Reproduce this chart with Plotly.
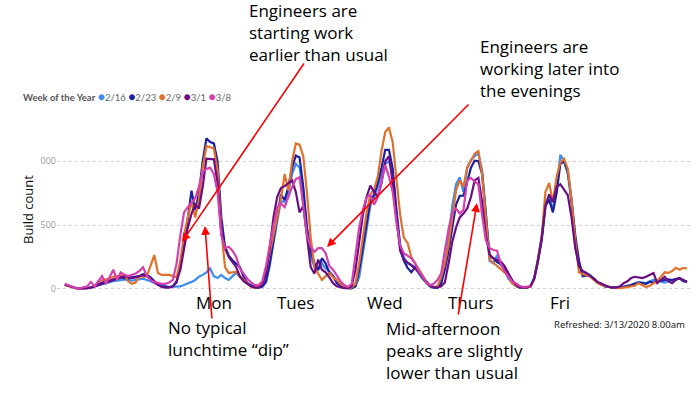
import plotly.graph_objects as go

# ---------------- data (hourly build counts, Sunday 00:00 -> Saturday 23:00) ----------------
week_names = ["2/16", "2/23", "2/9", "3/1", "3/8"]
week_colors = ["#3B8EF0", "#1C1FA0", "#E0712C", "#6A0D83", "#D63FAE"]

wk_0216 = (
    [35, 25, 15, 8, 5, 5, 8, 12, 20, 30, 40, 50, 55, 60, 65, 70, 75, 70, 65, 70, 75, 80, 70, 60]
    + [45, 35, 25, 20, 15, 15, 15, 20, 30, 40, 55, 70, 95, 110, 130, 160, 100, 85, 110, 85, 70, 100, 125, 95]
    + [70, 45, 30, 15, 10, 15, 50, 180, 360, 540, 690, 680, 760, 900, 980, 950, 760, 450, 260, 170, 150, 200, 160, 140]
    + [100, 60, 30, 15, 5, 5, 20, 90, 280, 470, 650, 720, 800, 900, 980, 1000, 900, 600, 350, 250, 200, 190, 170, 120]
    + [80, 50, 25, 10, 10, 50, 180, 400, 650, 820, 875, 760, 950, 1010, 1040, 1060, 930, 600, 220, 200, 265, 190, 150, 80]
    + [50, 25, 15, 10, 10, 25, 90, 240, 400, 680, 720, 620, 780, 1050, 1000, 900, 680, 400, 200, 110, 120, 110, 80, 50]
    + [35, 20, 15, 10, 10, 10, 15, 20, 30, 45, 55, 50, 45, 60, 70, 65, 55, 50, 60, 70, 75, 80, 65, 55]
)
wk_0223 = (
    [35, 25, 12, 5, 3, 3, 5, 10, 25, 40, 50, 60, 70, 75, 80, 90, 85, 80, 90, 95, 100, 115, 110, 90]
    + [60, 35, 20, 15, 15, 20, 50, 200, 330, 550, 770, 615, 750, 1000, 1180, 1150, 1140, 1000, 560, 330, 260, 225, 200, 170]
    + [95, 45, 25, 15, 10, 20, 60, 200, 380, 560, 740, 695, 800, 950, 1045, 1030, 800, 480, 300, 200, 150, 240, 200, 125]
    + [100, 45, 20, 10, 5, 5, 20, 150, 330, 520, 690, 740, 830, 950, 1090, 1090, 945, 620, 330, 220, 165, 130, 170, 150]
    + [90, 50, 20, 10, 10, 40, 150, 300, 480, 660, 730, 730, 840, 950, 1005, 1000, 900, 600, 260, 240, 210, 195, 170, 120]
    + [70, 25, 10, 10, 10, 20, 80, 220, 380, 650, 700, 600, 750, 980, 1000, 920, 700, 420, 220, 100, 105, 100, 80, 50]
    + [40, 20, 15, 10, 10, 10, 15, 25, 30, 40, 50, 45, 40, 55, 50, 60, 65, 70, 75, 70, 80, 85, 60, 55]
)
wk_0209 = (
    [30, 20, 10, 5, 3, 3, 5, 10, 20, 60, 65, 70, 80, 95, 100, 105, 110, 60, 40, 50, 100, 95, 100, 180]
    + [265, 125, 110, 110, 110, 100, 90, 220, 420, 560, 680, 560, 700, 950, 1120, 1110, 1100, 930, 460, 170, 125, 130, 135, 100]
    + [70, 45, 15, 10, 15, 40, 130, 280, 420, 560, 700, 900, 770, 1000, 1140, 1130, 1040, 750, 400, 170, 120, 70, 100, 125]
    + [90, 70, 40, 20, 10, 10, 40, 200, 400, 600, 740, 780, 880, 1080, 1230, 1265, 1150, 850, 580, 400, 360, 250, 200, 150]
    + [100, 60, 25, 15, 20, 90, 200, 350, 560, 770, 850, 800, 950, 1010, 1060, 1080, 900, 560, 230, 205, 180, 160, 130, 100]
    + [45, 25, 15, 10, 10, 20, 80, 230, 420, 760, 830, 680, 880, 990, 1020, 940, 700, 380, 130, 115, 110, 95, 70, 45]
    + [30, 20, 15, 10, 5, 5, 10, 15, 15, 25, 45, 30, 15, 25, 45, 60, 95, 130, 125, 140, 165, 150, 165, 160]
)
wk_0301 = (
    [35, 25, 12, 5, 3, 3, 5, 10, 20, 35, 45, 55, 65, 70, 80, 90, 100, 95, 85, 90, 100, 110, 100, 80]
    + [50, 30, 15, 10, 10, 20, 60, 150, 330, 480, 590, 660, 630, 800, 1020, 1020, 1015, 830, 440, 320, 250, 210, 170, 95]
    + [60, 40, 20, 10, 10, 30, 120, 320, 560, 720, 790, 805, 830, 850, 760, 600, 650, 400, 170, 120, 230, 150, 130, 90]
    + [45, 20, 10, 5, 5, 20, 150, 380, 580, 720, 810, 760, 720, 830, 1000, 1040, 835, 560, 300, 230, 210, 185, 160, 130]
    + [90, 55, 25, 15, 10, 20, 50, 200, 370, 480, 560, 590, 630, 720, 850, 870, 680, 420, 270, 240, 230, 215, 180, 120]
    + [70, 35, 15, 10, 10, 20, 80, 220, 400, 650, 740, 680, 800, 820, 780, 735, 560, 320, 180, 140, 125, 100, 80, 55]
    + [40, 25, 15, 10, 10, 20, 45, 60, 85, 95, 90, 85, 95, 110, 125, 45, 70, 95, 60, 45, 70, 85, 70, 55]
)
wk_0308 = (
    [40, 30, 15, 5, 5, 10, 20, 55, 20, 60, 100, 45, 90, 150, 70, 130, 110, 100, 110, 120, 140, 170, 100, 70]
    + [55, 45, 40, 40, 50, 70, 200, 420, 600, 640, 680, 710, 800, 920, 940, 950, 900, 760, 420, 320, 330, 300, 250, 160]
    + [120, 80, 50, 30, 30, 60, 180, 350, 500, 640, 670, 640, 720, 800, 860, 875, 650, 420, 330, 290, 320, 320, 280, 180]
    + [150, 100, 60, 30, 15, 40, 250, 480, 620, 720, 735, 660, 720, 850, 970, 880, 760, 520, 340, 280, 260, 240, 200, 140]
    + [100, 50, 30, 40, 70, 120, 300, 470, 600, 630, 590, 620, 850, 870, 840, 820, 580, 380, 320, 305, 300, 200, 140, 100]
    + [60, 45, 25, 15, 15, 20]
)
week_values = [wk_0216, wk_0223, wk_0209, wk_0301, wk_0308]

day_labels = ["Mon", "Tues", "Wed", "Thurs", "Fri"]
day_label_hour = [40, 62, 86, 109, 133]

y_tickvals = [0, 500, 1000]
y_ticktext = ["0", "500", "000"]

# ---------------- layout helpers (pixel -> paper) ----------------
W, H = 694, 406
ML, MR, MT, MB = 57, 4, 123, 112
PW, PH = W - ML - MR, H - MT - MB


def px(xp):
    return (xp - ML) / PW


def py(yp):
    return (H - MB - yp) / PH


fig = go.Figure()
for name, color, vals in zip(week_names, week_colors, week_values):
    fig.add_trace(go.Scatter(
        x=list(range(len(vals))), y=vals, mode="lines", name=name,
        line=dict(color=color, width=2.2), showlegend=False,
    ))

ann = []
# legend (compact, Power BI style)
legend_html = "<b>Week of the Year</b> " + " ".join(
    f"<span style='color:{c};font-size:12px'>●</span><span style='color:#666'>{n}</span>"
    for n, c in zip(week_names, week_colors)
)
ann.append(dict(text=legend_html, xref="paper", yref="paper", x=px(21), y=py(96),
                xanchor="left", yanchor="middle", showarrow=False,
                font=dict(family="Lato", size=9.5, color="#555555")))

# y axis title
ann.append(dict(text="Build count", xref="paper", yref="paper", x=px(28), y=py(210),
                textangle=-90, showarrow=False, xanchor="center", yanchor="middle",
                font=dict(family="Open Sans", size=13, color="#111111")))

# day labels
for lab, hx in zip(day_labels, day_label_hour):
    ann.append(dict(text=lab, xref="x", yref="paper", x=hx, y=py(302), showarrow=False,
                    xanchor="center", yanchor="middle",
                    font=dict(family="Open Sans", size=17, color="#000000")))

text_font = dict(family="Open Sans", size=17, color="#000000")
callouts = [
    ("Engineers are<br>starting work<br>earlier than usual", 247, 33),
    ("Engineers are<br>working later into<br>the evenings", 478, 69),
    ("No typical<br>lunchtime \u201cdip\u201d", 166, 338),
    ("Mid-afternoon<br>peaks are slightly<br>lower than usual", 384, 350),
]
for t, xl, yc in callouts:
    ann.append(dict(text=t, xref="paper", yref="paper", x=px(xl), y=py(yc), showarrow=False,
                    xanchor="left", yanchor="middle", align="left", font=text_font))

# red arrows: (head_x, head_y, tail_x, tail_y) in pixels
arrows = [(182, 242, 305, 62), (327, 247, 470, 103), (205, 226, 212, 320), (477, 203, 458, 316)]
for hx, hy, tx, ty in arrows:
    ann.append(dict(text="", xref="paper", yref="paper", x=px(hx), y=py(hy),
                    ax=tx - hx, ay=ty - hy, showarrow=True, arrowhead=2, arrowsize=1.1,
                    arrowwidth=1.6, arrowcolor="#FF0000", standoff=0))

ann.append(dict(text="Refreshed: 3/13/2020 8.00am", xref="paper", yref="paper",
                x=px(687), y=py(324), xanchor="right", yanchor="middle", showarrow=False,
                font=dict(family="Noto Sans", size=9.5, color="#222222")))

fig.update_layout(
    width=W, height=H,
    margin=dict(l=ML, r=MR, t=MT, b=MB),
    paper_bgcolor="white", plot_bgcolor="white",
    annotations=ann,
    xaxis=dict(range=[-2.1, 167.8], showgrid=False, zeroline=False, showline=False,
               showticklabels=False, ticks=""),
    yaxis=dict(range=[-40, 1300], tickvals=y_tickvals, ticktext=y_ticktext,
               showgrid=True, gridcolor="#CFCFCF", griddash="dot", gridwidth=1,
               zeroline=False, showline=False, ticks="",
               tickfont=dict(family="Open Sans", size=9, color="#9A9A9A")),
    showlegend=False,
)

fig.write_html("out.html", config={"displayModeBar": False},
               post_script="document.body.style.margin='0';document.body.style.overflow='hidden';")
